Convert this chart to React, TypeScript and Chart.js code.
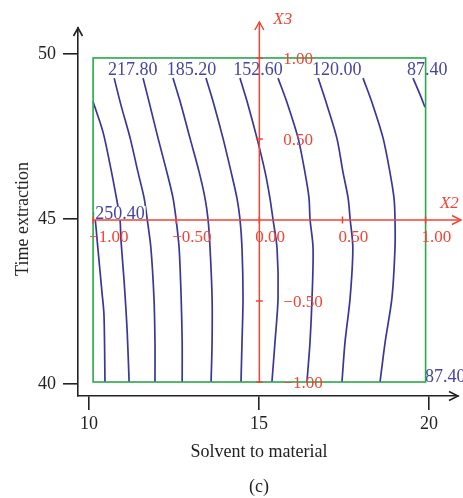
import React, { useEffect, useRef } from "react";
import { Chart, registerables } from "chart.js";
Chart.register(...registerables);

// ---- axes ----
const X_TICKS = [10, 15, 20];
const Y_TICKS = [40, 45, 50];
const X_RANGE = [9.676, 20.853];
const Y_RANGE = [39.636, 50.788];
const X_TITLE = "Solvent to material";
const Y_TITLE = "Time extraction";
const PANEL = "(c)";

// ---- design region (coded -1..1) ----
const BOX_X = [10.12, 19.9];
const BOX_Y = [40.06, 49.88];
const CODED_TICKS = [-1, -0.5, 0, 0.5, 1];
const X2_LABELS = ["\u22121.00", "\u22120.50", "0.00", "0.50", "1.00"];
const X3_TICKS = [-1, -0.5, 0.5, 1];
const X3_LABELS = ["\u22121.00", "\u22120.50", "0.50", "1.00"];
const X2_END = 20.91;
const X3_END = 50.97;

// ---- contour lines (x values at y values) ----
const GRID_Y = [49.27, 48.45, 47.45, 46.42, 45.64, 45.0, 44.12, 42.61, 41.27, 40.06];
const C250_Y = [45.21, 45.0, 44.12, 42.79, 42.09, 40.06];
const C250_X = [10.13, 10.18, 10.26, 10.38, 10.44, 10.47];
const C234_Y = [48.55, 47.64, 46.64, 45.73, 45.0, 44.36, 43.15, 41.64, 40.06];
const C234_X = [10.12, 10.41, 10.62, 10.79, 10.91, 10.94, 11.03, 11.12, 11.18];
const C218_X = [10.74, 10.94, 11.21, 11.44, 11.62, 11.71, 11.82, 11.91, 11.94, 11.94];
const C202_X = [11.59, 11.79, 12.03, 12.29, 12.47, 12.56, 12.65, 12.71, 12.74, 12.74];
const C185_X = [12.47, 12.71, 12.97, 13.24, 13.41, 13.5, 13.56, 13.62, 13.62, 13.59];
const C169_X = [13.44, 13.68, 13.94, 14.18, 14.35, 14.44, 14.5, 14.53, 14.5, 14.47];
const C153_X = [14.44, 14.68, 14.94, 15.18, 15.32, 15.41, 15.53, 15.56, 15.47, 15.38];
const C136_X = [15.56, 15.85, 16.15, 16.35, 16.47, 16.5, 16.59, 16.56, 16.5, 16.41];
const C120_X = [16.74, 17.0, 17.29, 17.47, 17.62, 17.68, 17.76, 17.68, 17.53, 17.44];
const C104_X = [18.06, 18.35, 18.65, 18.85, 18.97, 19.0, 19.0, 18.91, 18.71, 18.56];
const C87_Y = [49.27, 48.76, 48.39];
const C87_X = [19.53, 19.74, 19.88];

// ---- contour labels ----
const LABEL_TEXT = ["217.80", "185.20", "152.60", "120.00", "87.40", "250.40", "87.40"];
const LABEL_X = [10.56, 12.29, 14.24, 16.56, 19.35, 10.18, 19.88];
const LABEL_Y = [49.55, 49.55, 49.55, 49.55, 49.55, 45.18, 40.24];

const SERIF = "'Liberation Serif', 'DejaVu Serif', serif";
const BLUE_LINE = "#38389a";
const BLUE_TEXT = "#4545a2";
const RED = "#ef4536";
const GREEN = "#2aa84a";
const INK = "#222222";

const zip = (xs: number[], ys: number[]) => xs.map((x, i) => ({ x, y: ys[i] }));

const CONTOURS = [
  zip(C250_X, C250_Y),
  zip(C234_X, C234_Y),
  zip(C218_X, GRID_Y),
  zip(C202_X, GRID_Y),
  zip(C185_X, GRID_Y),
  zip(C169_X, GRID_Y),
  zip(C153_X, GRID_Y),
  zip(C136_X, GRID_Y),
  zip(C120_X, GRID_Y),
  zip(C104_X, GRID_Y),
  zip(C87_X, C87_Y),
];

function chevron(ctx: CanvasRenderingContext2D, tx: number, ty: number, dir: "up" | "right") {
  ctx.beginPath();
  if (dir === "up") {
    ctx.moveTo(tx - 4.5, ty + 8);
    ctx.lineTo(tx, ty);
    ctx.lineTo(tx + 4.5, ty + 8);
  } else {
    ctx.moveTo(tx - 9, ty - 4.5);
    ctx.lineTo(tx, ty);
    ctx.lineTo(tx - 9, ty + 4.5);
  }
  ctx.stroke();
}

const overlay = {
  id: "overlay",
  afterDatasetsDraw(chart: any) {
    const ctx: CanvasRenderingContext2D = chart.ctx;
    const xs = chart.scales.x;
    const ys = chart.scales.y;
    const px = (v: number) => xs.getPixelForValue(v);
    const py = (v: number) => ys.getPixelForValue(v);
    const ca = chart.chartArea;
    ctx.save();

    // contour labels
    ctx.font = `18px ${SERIF}`;
    ctx.textAlign = "left";
    ctx.textBaseline = "middle";
    LABEL_TEXT.forEach((t, i) => {
      const x = px(LABEL_X[i]);
      const y = py(LABEL_Y[i]);
      const w = ctx.measureText(t).width;
      ctx.fillStyle = "#ffffff";
      ctx.fillRect(x - 1, y - 7, w + 2, 14);
      ctx.fillStyle = BLUE_TEXT;
      ctx.fillText(t, x, y + 1);
    });

    // green design box
    ctx.strokeStyle = GREEN;
    ctx.lineWidth = 1.6;
    ctx.strokeRect(px(BOX_X[0]), py(BOX_Y[1]), px(BOX_X[1]) - px(BOX_X[0]), py(BOX_Y[0]) - py(BOX_Y[1]));

    // red coded axes
    const midX = (BOX_X[0] + BOX_X[1]) / 2;
    const midY = (BOX_Y[0] + BOX_Y[1]) / 2;
    const hx = (BOX_X[1] - BOX_X[0]) / 2;
    const hy = (BOX_Y[1] - BOX_Y[0]) / 2;
    ctx.strokeStyle = RED;
    ctx.lineWidth = 1.5;
    ctx.beginPath();
    ctx.moveTo(px(BOX_X[0]), py(midY));
    ctx.lineTo(px(X2_END), py(midY));
    ctx.moveTo(px(midX), py(BOX_Y[0]));
    ctx.lineTo(px(midX), py(X3_END));
    ctx.stroke();
    chevron(ctx, px(X2_END) + 1, py(midY), "right");
    chevron(ctx, px(midX), py(X3_END), "up");
    ctx.beginPath();
    CODED_TICKS.forEach((c) => {
      const x = px(midX + c * hx);
      ctx.moveTo(x, py(midY) - 3.5);
      ctx.lineTo(x, py(midY) + 3.5);
    });
    X3_TICKS.forEach((c) => {
      const y = py(midY + c * hy);
      ctx.moveTo(px(midX) - 3.5, y);
      ctx.lineTo(px(midX) + 3.5, y);
    });
    ctx.stroke();

    ctx.fillStyle = RED;
    ctx.font = `17px ${SERIF}`;
    ctx.textAlign = "left";
    ctx.textBaseline = "middle";
    CODED_TICKS.forEach((c, i) => {
      ctx.fillText(X2_LABELS[i], px(midX + c * hx) - 4, py(midY) + 18);
    });
    X3_TICKS.forEach((c, i) => {
      ctx.fillText(X3_LABELS[i], px(midX) + 24, py(midY + c * hy) + 2);
    });
    ctx.font = `italic 17px ${SERIF}`;
    ctx.fillText("X2", px(X2_END) - 20, py(midY) - 16);
    ctx.fillText("X3", px(midX) + 14, py(X3_END) - 2);

    // black axis arrowheads
    ctx.strokeStyle = INK;
    ctx.lineWidth = 1.6;
    chevron(ctx, ca.left, ca.top, "up");
    chevron(ctx, ca.right, ca.bottom, "right");

    // titles
    ctx.fillStyle = INK;
    ctx.font = `18px ${SERIF}`;
    ctx.textAlign = "center";
    ctx.textBaseline = "middle";
    ctx.fillText(X_TITLE, px(15), ca.bottom + 56);
    ctx.fillText(PANEL, px(15), ca.bottom + 91);
    ctx.save();
    ctx.translate(23, py(45));
    ctx.rotate(-Math.PI / 2);
    ctx.fillText(Y_TITLE, 0, 0);
    ctx.restore();

    ctx.restore();
  },
};

export default function App() {
  const ref = useRef<HTMLCanvasElement>(null);
  useEffect(() => {
    document.body.style.margin = "0";
    const chart = new Chart(ref.current!, {
      type: "scatter",
      data: {
        datasets: CONTOURS.map((pts) => ({
          data: pts,
          showLine: true,
          borderColor: BLUE_LINE,
          borderWidth: 1.7,
          pointRadius: 0,
          tension: 0.3,
          fill: false,
        })),
      },
      options: {
        animation: false,
        responsive: false,
        devicePixelRatio: 1,
        layout: { padding: { top: 28, right: 5, left: 0, bottom: 0 } },
        plugins: { legend: { display: false }, tooltip: { enabled: false }, title: { display: false } },
        scales: {
          x: {
            type: "linear",
            min: X_RANGE[0],
            max: X_RANGE[1],
            afterBuildTicks: (s: any) => {
              s.ticks = X_TICKS.map((v) => ({ value: v }));
            },
            afterFit: (s: any) => {
              s.height = 102;
            },
            grid: { drawOnChartArea: false, drawTicks: true, tickLength: 14, color: INK, lineWidth: 1.6 },
            border: { display: true, color: INK, width: 1.6 },
            ticks: { font: { family: SERIF, size: 18 }, color: INK, padding: 3, maxRotation: 0 },
          },
          y: {
            type: "linear",
            min: Y_RANGE[0],
            max: Y_RANGE[1],
            afterBuildTicks: (s: any) => {
              s.ticks = Y_TICKS.map((v) => ({ value: v }));
            },
            afterFit: (s: any) => {
              s.width = 78;
            },
            grid: { drawOnChartArea: false, drawTicks: true, tickLength: 15, color: INK, lineWidth: 1.6 },
            border: { display: true, color: INK, width: 1.6 },
            ticks: { font: { family: SERIF, size: 18 }, color: INK, padding: 7 },
          },
        },
      },
      plugins: [overlay],
    } as any);
    return () => chart.destroy();
  }, []);
  return (
    <div style={{ width: 463, height: 498 }}>
      <canvas ref={ref} width={463} height={498} />
    </div>
  );
}
